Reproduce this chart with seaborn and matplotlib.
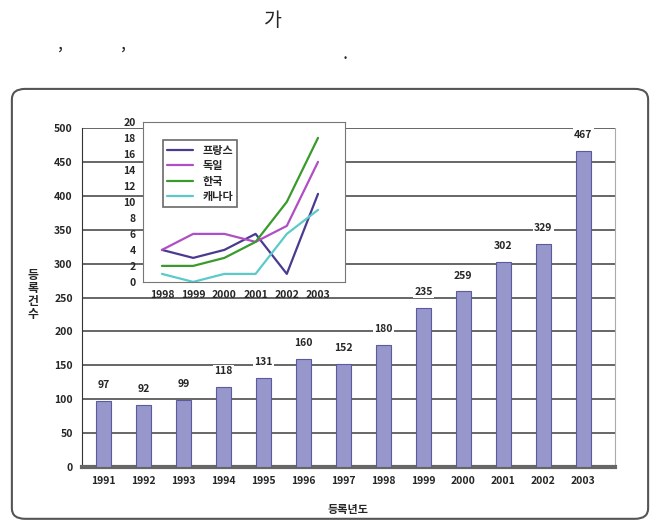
import matplotlib
matplotlib.use("Agg")
import matplotlib.pyplot as plt
from matplotlib.patches import FancyBboxPatch
import pandas as pd
import seaborn as sns

# data
years = ['1991', '1992', '1993', '1994', '1995', '1996', '1997',
         '1998', '1999', '2000', '2001', '2002', '2003']
counts = [97, 92, 99, 118, 131, 160, 152, 180, 235, 259, 302, 329, 467]

inset_years = [1998, 1999, 2000, 2001, 2002, 2003]
france = [4, 3, 4, 6, 1, 11]
germany = [4, 6, 6, 5, 7, 15]
korea = [2, 2, 3, 5, 10, 18]
canada = [1, 0, 1, 1, 6, 9]
country_names = ['프랑스', '독일', '한국', '캐나다']
country_colors = ['#4a3a90', '#b04ec4', '#3a9a2c', '#5ccaca']

sns.set_style("white")
plt.rcParams['font.family'] = ['Noto Sans CJK KR', 'DejaVu Sans']

fig = plt.figure(figsize=(6.6, 5.23), dpi=100)

# heading fragments above the box
fig.text(60 / 660, 1 - 44 / 523, ',', fontsize=13, ha='center', va='center')
fig.text(123 / 660, 1 - 44 / 523, ',', fontsize=13, ha='center', va='center')
fig.text(273 / 660, 1 - 20 / 523, '가', fontsize=14, ha='center', va='center')
fig.text(345 / 660, 1 - 54 / 523, '.', fontsize=13, ha='center', va='center')

# rounded frame around the chart
frame = FancyBboxPatch((0.018, 0.008), 0.964, 0.822,
                       boxstyle="round,pad=0,rounding_size=0.02",
                       transform=fig.transFigure, facecolor='none',
                       edgecolor='#555555', linewidth=1.5, zorder=-1)
fig.patches.append(frame)

# main bar chart
ax = fig.add_axes([0.124, 0.107, 0.808, 0.648])
df = pd.DataFrame({'year': years, 'count': counts})
sns.barplot(data=df, x='year', y='count', color='#8e8ed4', width=0.38,
            edgecolor='#5a5aa0', linewidth=0.8, ax=ax, zorder=3)
ax.set_ylim(0, 500)
ax.set_xlim(-0.55, 12.8)
ax.set_yticks(range(0, 501, 50))
for v in range(50, 501, 50):
    ax.axhline(v, color='#5a5a5a', linewidth=1.3, zorder=1)
for i, c in enumerate(counts):
    ax.text(i, c + 16, str(c), ha='center', va='bottom', fontsize=7.5,
            fontweight='bold', zorder=4,
            bbox=dict(facecolor='white', edgecolor='none', pad=1))
ax.set_xlabel('등록년도', fontsize=8, fontweight='bold', labelpad=12)
ax.set_ylabel('')
fig.text(33 / 660, 1 - 295 / 523, '등\n록\n건\n수', fontsize=8.5,
         fontweight='bold', ha='center', va='center', linespacing=1.0)
ax.tick_params(axis='both', labelsize=7.5, length=3, direction='out')
for lbl in ax.get_xticklabels() + ax.get_yticklabels():
    lbl.set_fontweight('bold')
ax.spines['top'].set_visible(False)
ax.spines['left'].set_color('#333333')
ax.spines['bottom'].set_color('#666666')
ax.spines['bottom'].set_linewidth(3)
ax.spines['right'].set_color('#aaaaaa')
ax.set_facecolor('none')

# inset line chart
ins = fig.add_axes([0.217, 0.461, 0.306, 0.306])
ins.set_facecolor('white')
ins_df = pd.DataFrame({
    'year': inset_years * 4,
    'value': france + germany + korea + canada,
    'country': [n for n in country_names for _ in inset_years],
})
sns.lineplot(data=ins_df, x='year', y='value', hue='country',
             palette=dict(zip(country_names, country_colors)),
             linewidth=1.6, ax=ins)
ins.set_xlim(1997.4, 2003.87)
ins.set_ylim(0, 20)
ins.set_yticks(range(0, 21, 2))
ins.set_xticks(inset_years)
ins.set_xlabel('')
ins.set_ylabel('')
ins.tick_params(axis='both', labelsize=7.5, length=2)
for lbl in ins.get_xticklabels() + ins.get_yticklabels():
    lbl.set_fontweight('bold')
for s in ins.spines.values():
    s.set_color('#777777')
leg = ins.legend(loc='upper left', bbox_to_anchor=(0.07, 0.92),
                 fontsize=8, frameon=True, fancybox=False,
                 handlelength=2.4, borderpad=0.35, labelspacing=0.2)
leg.get_frame().set_edgecolor('#444444')
leg.get_frame().set_linewidth(1.2)
for t in leg.get_texts():
    t.set_fontweight('bold')

fig.savefig('out.png', dpi=100)
